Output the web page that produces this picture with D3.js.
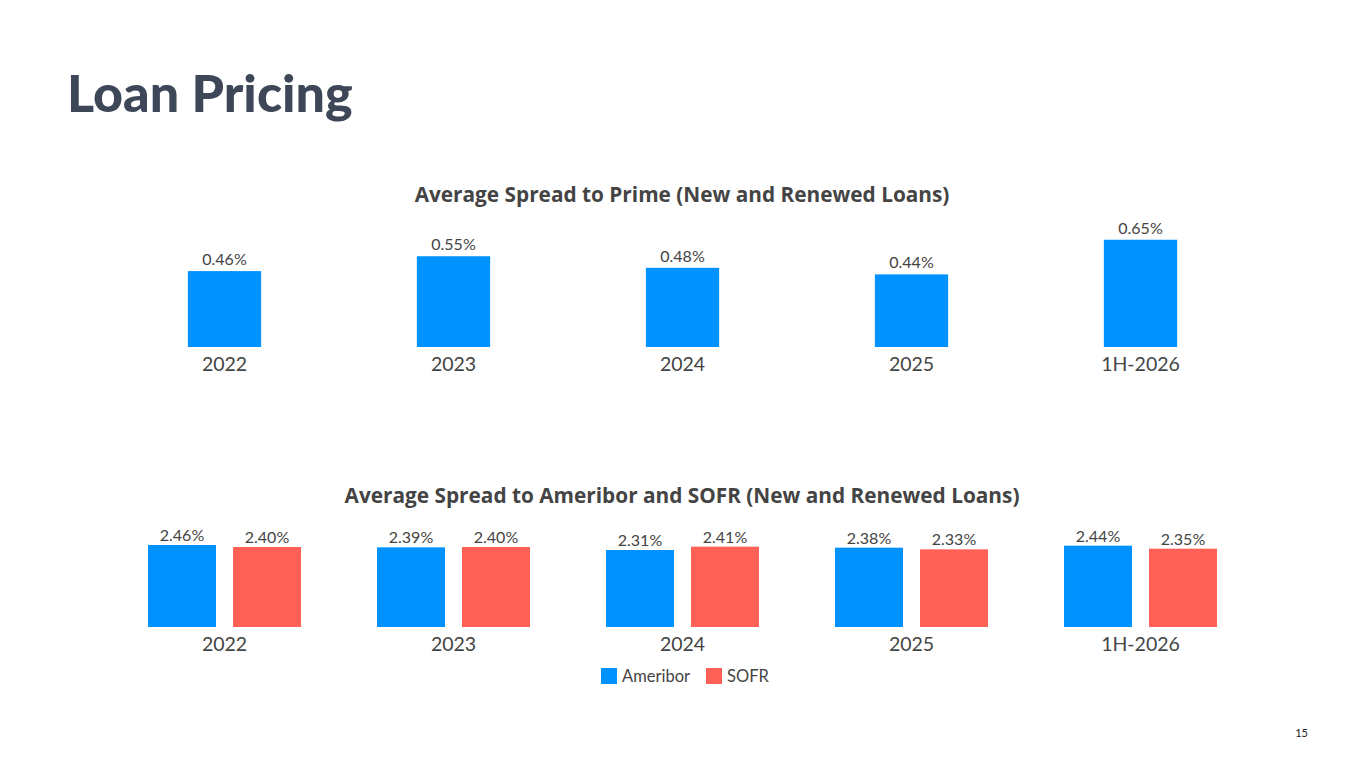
<!DOCTYPE html>
<html>
<head>
<meta charset="utf-8">
<script src="https://cdn.jsdelivr.net/npm/d3@7"></script>
<style>
  html, body { margin: 0; padding: 0; background: #fff; }
  svg { display: block; font-family: Lato, "Open Sans", sans-serif; }
</style>
</head>
<body>
<svg id="chart" width="1365" height="768"></svg>
<script>
// Data
const years = ["2022", "2023", "2024", "2025", "1H-2026"];
const primeSpread = [0.46, 0.55, 0.48, 0.44, 0.65];
const series = ["Ameribor", "SOFR"];
const ameriborSpread = [2.46, 2.39, 2.31, 2.38, 2.44];
const sofrSpread = [2.40, 2.40, 2.41, 2.33, 2.35];

const blue = "#0092FF";
const red = "#FF6157";
const textColor = "#444444";

const svg = d3.select("#chart");

// Page title
svg.append("text")
    .attr("x", 67)
    .attr("y", 112)
    .style("font-size", "52px")
    .style("font-weight", "900")
    .attr("fill", "#3E4757")
    .text("Loan Pricing");

// ---- Top chart: spread to prime ----
const x = d3.scaleBand()
    .domain(years)
    .range([110, 1255])
    .paddingInner(0.68)
    .paddingOuter(0.34);

const yTop = d3.scaleLinear()
    .domain([0, 1])
    .range([347, 182]);

svg.append("text")
    .attr("x", 682)
    .attr("y", 202)
    .attr("text-anchor", "middle")
    .style("font-family", "'Open Sans', sans-serif")
    .style("font-size", "20.8px")
    .style("font-weight", "bold")
    .attr("fill", textColor)
    .text("Average Spread to Prime (New and Renewed Loans)");

const primeChart = svg.append("g");

primeChart.selectAll("rect")
    .data(primeSpread)
    .enter()
    .append("rect")
    .attr("x", (d, i) => x(years[i]))
    .attr("y", d => yTop(d))
    .attr("width", x.bandwidth())
    .attr("height", d => yTop(0) - yTop(d))
    .attr("fill", blue);

primeChart.selectAll("text.val")
    .data(primeSpread)
    .enter()
    .append("text")
    .attr("class", "val")
    .attr("x", (d, i) => x(years[i]) + x.bandwidth() / 2)
    .attr("y", d => yTop(d) - 6)
    .attr("text-anchor", "middle")
    .style("font-size", "16px")
    .attr("fill", textColor)
    .text(d => d.toFixed(2) + "%");

// category axis, no line
svg.append("g")
    .attr("transform", `translate(0,${yTop(0)})`)
    .call(d3.axisBottom(x).tickSize(0).tickPadding(10))
    .call(g => g.select(".domain").remove())
    .call(g => g.selectAll("text")
        .style("font-family", "Lato, 'Open Sans', sans-serif")
        .style("font-size", "19.5px")
        .attr("fill", textColor));

// ---- Bottom chart: spread to Ameribor and SOFR ----
const x0 = d3.scaleBand()
    .domain(years)
    .range([110, 1255])
    .paddingInner(0.332)
    .paddingOuter(0.166);

const x1 = d3.scaleBand()
    .domain(series)
    .range([0, x0.bandwidth()])
    .paddingInner(0.2);

const yBot = d3.scaleLinear()
    .domain([0, 3])
    .range([627, 527]);

const color = d3.scaleOrdinal().domain(series).range([blue, red]);

svg.append("text")
    .attr("x", 682)
    .attr("y", 503)
    .attr("text-anchor", "middle")
    .style("font-family", "'Open Sans', sans-serif")
    .style("font-size", "20.8px")
    .style("font-weight", "bold")
    .attr("fill", textColor)
    .text("Average Spread to Ameribor and SOFR (New and Renewed Loans)");

const groupedData = years.map((yr, i) => ({
    year: yr,
    values: [
        { key: "Ameribor", value: ameriborSpread[i] },
        { key: "SOFR", value: sofrSpread[i] }
    ]
}));

const groups = svg.append("g")
    .selectAll("g")
    .data(groupedData)
    .enter()
    .append("g")
    .attr("transform", d => `translate(${x0(d.year)},0)`);

groups.selectAll("rect")
    .data(d => d.values)
    .enter()
    .append("rect")
    .attr("x", d => x1(d.key))
    .attr("y", d => yBot(d.value))
    .attr("width", x1.bandwidth())
    .attr("height", d => yBot(0) - yBot(d.value))
    .attr("fill", d => color(d.key));

groups.selectAll("text")
    .data(d => d.values)
    .enter()
    .append("text")
    .attr("x", d => x1(d.key) + x1.bandwidth() / 2)
    .attr("y", d => yBot(d.value) - 4)
    .attr("text-anchor", "middle")
    .style("font-size", "16px")
    .attr("fill", textColor)
    .text(d => d.value.toFixed(2) + "%");

svg.append("g")
    .attr("transform", `translate(0,${yBot(0)})`)
    .call(d3.axisBottom(x0).tickSize(0).tickPadding(10))
    .call(g => g.select(".domain").remove())
    .call(g => g.selectAll("text")
        .style("font-family", "Lato, 'Open Sans', sans-serif")
        .style("font-size", "19.5px")
        .attr("fill", textColor));

// Legend
const legend = svg.append("g")
    .selectAll("g")
    .data(series)
    .enter()
    .append("g")
    .attr("transform", (d, i) => `translate(${[601, 706][i]},668)`);

legend.append("rect")
    .attr("width", 16)
    .attr("height", 16)
    .attr("fill", d => color(d));

legend.append("text")
    .attr("x", 21)
    .attr("y", 14)
    .style("font-size", "16.5px")
    .attr("fill", textColor)
    .text(d => d);

// Page number
svg.append("text")
    .attr("x", 1308)
    .attr("y", 737)
    .attr("text-anchor", "end")
    .style("font-size", "11px")
    .attr("fill", "#222")
    .text("15");
</script>
</body>
</html>
